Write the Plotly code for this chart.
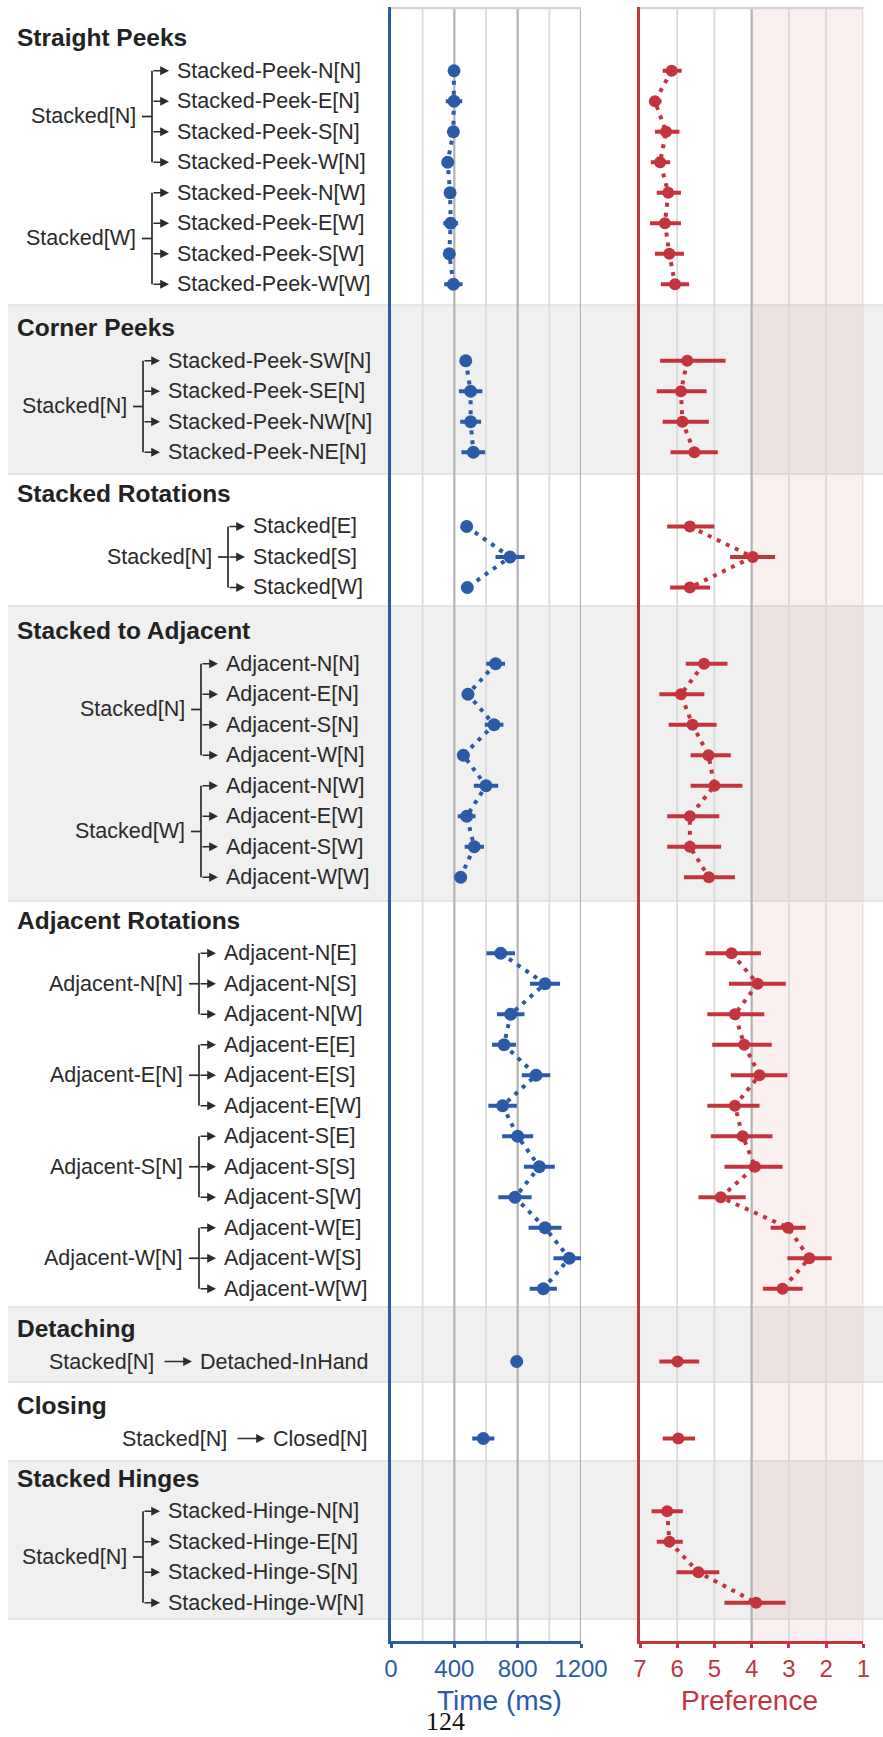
import plotly.graph_objects as go

# ---------------- data ----------------
section_titles = ["Straight Peeks", "Corner Peeks", "Stacked Rotations", "Stacked to Adjacent",
                  "Adjacent Rotations", "Detaching", "Closing", "Stacked Hinges"]

row_section = [0] * 8 + [1] * 4 + [2] * 3 + [3] * 8 + [4] * 12 + [5] + [6] + [7] * 4

row_source = (["Stacked[N]"] * 4 + ["Stacked[W]"] * 4
              + ["Stacked[N]"] * 4
              + ["Stacked[N]"] * 3
              + ["Stacked[N]"] * 4 + ["Stacked[W]"] * 4
              + ["Adjacent-N[N]"] * 3 + ["Adjacent-E[N]"] * 3 + ["Adjacent-S[N]"] * 3 + ["Adjacent-W[N]"] * 3
              + ["Stacked[N]"]
              + ["Stacked[N]"]
              + ["Stacked[N]"] * 4)

row_target = ["Stacked-Peek-N[N]", "Stacked-Peek-E[N]", "Stacked-Peek-S[N]", "Stacked-Peek-W[N]",
              "Stacked-Peek-N[W]", "Stacked-Peek-E[W]", "Stacked-Peek-S[W]", "Stacked-Peek-W[W]",
              "Stacked-Peek-SW[N]", "Stacked-Peek-SE[N]", "Stacked-Peek-NW[N]", "Stacked-Peek-NE[N]",
              "Stacked[E]", "Stacked[S]", "Stacked[W]",
              "Adjacent-N[N]", "Adjacent-E[N]", "Adjacent-S[N]", "Adjacent-W[N]",
              "Adjacent-N[W]", "Adjacent-E[W]", "Adjacent-S[W]", "Adjacent-W[W]",
              "Adjacent-N[E]", "Adjacent-N[S]", "Adjacent-N[W]",
              "Adjacent-E[E]", "Adjacent-E[S]", "Adjacent-E[W]",
              "Adjacent-S[E]", "Adjacent-S[S]", "Adjacent-S[W]",
              "Adjacent-W[E]", "Adjacent-W[S]", "Adjacent-W[W]",
              "Detached-InHand",
              "Closed[N]",
              "Stacked-Hinge-N[N]", "Stacked-Hinge-E[N]", "Stacked-Hinge-S[N]", "Stacked-Hinge-W[N]"]

time_ms = [398, 398, 394, 358, 373, 377, 368, 394,
           472, 503, 503, 520,
           478, 752, 482,
           661, 486, 651, 457, 600, 478, 526, 440,
           693, 973, 756, 714, 916, 705, 800, 937, 783, 973, 1126, 962,
           794,
           583,
           None, None, None, None]
time_err = [20, 52, 25, 25, 25, 47, 25, 58,
            25, 74, 66, 75,
            25, 92, 25,
            59, 25, 59, 25, 77, 56, 61, 25,
            90, 95, 87, 76, 90, 90, 98, 98, 105, 104, 100, 86,
            30,
            70,
            None, None, None, None]

pref_mean = [6.15, 6.60, 6.30, 6.46, 6.24, 6.33, 6.21, 6.06,
             5.73, 5.90, 5.86, 5.54,
             5.66, 3.97, 5.66,
             5.28, 5.90, 5.59, 5.16, 5.00, 5.66, 5.66, 5.15,
             4.54, 3.84, 4.45, 4.20, 3.79, 4.45, 4.24, 3.91, 4.83, 3.02, 2.45, 3.17,
             5.99,
             5.97,
             6.27, 6.21, 5.43, 3.88]
pref_hi = [6.39, 6.75, 6.60, 6.71, 6.55, 6.73, 6.60, 6.44,
           6.46, 6.55, 6.39, 6.18,
           6.27, 4.58, 6.19,
           5.77, 6.48, 6.23, 5.64, 5.64, 6.27, 6.27, 5.82,
           5.24, 4.61, 5.19, 5.06, 4.56, 5.19, 5.10, 4.73, 5.43, 3.49, 3.04, 3.70,
           6.48,
           6.39,
           6.69, 6.55, 6.02, 4.73]
pref_lo = [5.88, 6.42, 5.94, 6.19, 5.90, 5.90, 5.82, 5.68,
           4.70, 5.21, 5.15, 4.91,
           5.00, 3.37, 5.12,
           4.65, 5.27, 4.94, 4.56, 4.25, 4.87, 4.82, 4.45,
           3.75, 3.08, 3.66, 3.46, 3.04, 3.79, 3.44, 3.17, 4.16, 2.55, 1.85, 2.63,
           5.41,
           5.52,
           5.85, 5.85, 4.87, 3.09]

time_ticks = [0, 400, 800, 1200]
time_minor = [200, 600, 1000]
pref_ticks = [7, 6, 5, 4, 3, 2, 1]

# ---------------- layout constants ----------------
W, H = 883, 1737
PLOT_TOP, AXIS_Y = 7, 1641
band_edges = [16, 305, 474, 606, 901, 1307, 1382, 1461, 1619]
band_shaded = [False, True, False, True, False, True, False, True]
bracket_x = [152, 143, 228, 201, 199, 163, 236, 143]
PITCH, TITLE_GAP, SHIFT = 30.5, 32, 1

BLUE = "#2b5ba7"
RED = "#c3343e"
TXT = "#2b2b2b"
FONT = "Liberation Sans, Arial, sans-serif"


def px(x):
    return x / W


def py(y):
    return 1 - y / H


n_sec = len(section_titles)
sec_rows = [[i for i, r in enumerate(row_section) if r == s] for s in range(n_sec)]
row_y = [0.0] * len(row_section)
title_y = []
for s in range(n_sec):
    idx = sec_rows[s]
    n = len(idx)
    center = (band_edges[s] + band_edges[s + 1]) / 2 + SHIFT
    ty = center - (TITLE_GAP + (n - 1) * PITCH) / 2
    title_y.append(ty)
    for k, i in enumerate(idx):
        row_y[i] = ty + TITLE_GAP + k * PITCH

fig = go.Figure()

# ---------------- traces ----------------
for s in range(n_sec):
    idx = sec_rows[s]
    ys = [row_y[i] for i in idx]
    t = [time_ms[i] for i in idx]
    if any(v is not None for v in t):
        fig.add_trace(go.Scatter(
            x=t, y=ys, xaxis="x", yaxis="y", mode="lines+markers",
            line=dict(color=BLUE, width=4, dash="4px,6px"),
            marker=dict(color=BLUE, size=13),
            error_x=dict(type="data", array=[time_err[i] for i in idx], color=BLUE, thickness=4, width=0),
            showlegend=False, hoverinfo="skip", cliponaxis=False))
    fig.add_trace(go.Scatter(
        x=[pref_mean[i] for i in idx], y=ys, xaxis="x2", yaxis="y2", mode="lines+markers",
        line=dict(color=RED, width=4, dash="4px,6px"),
        marker=dict(color=RED, size=12),
        error_x=dict(type="data", symmetric=False,
                     array=[pref_hi[i] - pref_mean[i] for i in idx],
                     arrayminus=[pref_mean[i] - pref_lo[i] for i in idx],
                     color=RED, thickness=4, width=0),
        showlegend=False, hoverinfo="skip", cliponaxis=False))

# ---------------- shapes ----------------
shapes = []
for s in range(n_sec):
    if band_shaded[s]:
        shapes.append(dict(type="rect", xref="paper", yref="y", x0=px(8), x1=1,
                           y0=band_edges[s], y1=band_edges[s + 1],
                           fillcolor="#eff0ef", line=dict(width=0), layer="below"))
        for e in (band_edges[s], band_edges[s + 1]):
            shapes.append(dict(type="line", xref="paper", yref="y", x0=px(8), x1=1, y0=e, y1=e,
                               line=dict(color="#dedfde", width=1.5), layer="below"))

# pink "disliked" region
shapes.append(dict(type="rect", xref="x2", yref="y2", x0=4, x1=1, y0=AXIS_Y, y1=PLOT_TOP,
                   fillcolor="rgba(205,60,70,0.08)", line=dict(width=0), layer="between"))

# gridlines
for v in time_minor:
    shapes.append(dict(type="line", xref="x", yref="y", x0=v, x1=v, y0=AXIS_Y, y1=PLOT_TOP,
                       line=dict(color="#dcdcdc", width=1.8), layer="between"))
for v in time_ticks[1:]:
    shapes.append(dict(type="line", xref="x", yref="y", x0=v, x1=v, y0=AXIS_Y, y1=PLOT_TOP,
                       line=dict(color="#b3b3b3", width=2.2), layer="between"))
for v in pref_ticks[1:]:
    col = "#b3b3b3" if v == 4 else "#d9d9d9"
    wid = 2.2 if v == 4 else 1.8
    shapes.append(dict(type="line", xref="x2", yref="y2", x0=v, x1=v, y0=AXIS_Y, y1=PLOT_TOP,
                       line=dict(color=col, width=wid), layer="between"))
# top frame lines
shapes.append(dict(type="line", xref="x", yref="y", x0=0, x1=1200, y0=PLOT_TOP + 1, y1=PLOT_TOP + 1,
                   line=dict(color="#d3d3d3", width=2.5), layer="between"))
shapes.append(dict(type="line", xref="x2", yref="y2", x0=7, x1=1, y0=PLOT_TOP + 1, y1=PLOT_TOP + 1,
                   line=dict(color="#d3d3d3", width=2.5), layer="between"))

# ---------------- left labels ----------------
ann = []
lab_font = dict(family=FONT, size=21.5, color=TXT)
for s in range(n_sec):
    idx = sec_rows[s]
    bx = bracket_x[s]
    ann.append(dict(x=px(15), y=title_y[s] - 1, xref="paper", yref="y", xanchor="left", yanchor="middle",
                    text=section_titles[s], showarrow=False,
                    font=dict(family=FONT, size=24.5, color="#222222", weight="bold")))
    if len(idx) == 1:
        i = idx[0]
        ann.append(dict(x=px(bx - 7), y=row_y[i], xref="paper", yref="y", xanchor="right", yanchor="middle",
                        text=row_source[i], showarrow=False, font=lab_font))
        ann.append(dict(x=px(bx + 29), y=row_y[i], xref="paper", yref="y", ax=-29, ay=0,
                        axref="pixel", ayref="pixel", text="", showarrow=True,
                        arrowhead=2, arrowsize=1.1, arrowwidth=1.6, arrowcolor=TXT))
        ann.append(dict(x=px(bx + 35), y=row_y[i], xref="paper", yref="y", xanchor="left", yanchor="middle",
                        text=row_target[i], showarrow=False, font=lab_font))
        continue
    # groups of consecutive rows with the same source
    groups = []
    for i in idx:
        if groups and row_source[groups[-1][-1]] == row_source[i]:
            groups[-1].append(i)
        else:
            groups.append([i])
    for g in groups:
        y0, y1 = row_y[g[0]], row_y[g[-1]]
        ym = (y0 + y1) / 2
        shapes.append(dict(type="line", xref="paper", yref="y", x0=px(bx), x1=px(bx), y0=y0, y1=y1,
                           line=dict(color=TXT, width=1.7), layer="above"))
        shapes.append(dict(type="line", xref="paper", yref="y", x0=px(bx - 10), x1=px(bx), y0=ym, y1=ym,
                           line=dict(color=TXT, width=1.7), layer="above"))
        ann.append(dict(x=px(bx - 14), y=ym, xref="paper", yref="y", xanchor="right", yanchor="middle",
                        text=row_source[g[0]], showarrow=False, font=lab_font))
        for i in g:
            ann.append(dict(x=px(bx + 17), y=row_y[i], xref="paper", yref="y", ax=-17, ay=0,
                            axref="pixel", ayref="pixel", text="", showarrow=True,
                            arrowhead=2, arrowsize=1.1, arrowwidth=1.6, arrowcolor=TXT))
            ann.append(dict(x=px(bx + 23), y=row_y[i], xref="paper", yref="y", xanchor="left",
                            yanchor="middle", text=row_target[i], showarrow=False, font=lab_font))

# axis titles and page number
ann.append(dict(x=px(499), y=py(1700), xref="paper", yref="paper", xanchor="center", yanchor="middle",
                text="Time (ms)", showarrow=False, font=dict(family=FONT, size=28, color=BLUE)))
ann.append(dict(x=px(749), y=py(1700), xref="paper", yref="paper", xanchor="center", yanchor="middle",
                text="Preference", showarrow=False, font=dict(family=FONT, size=28, color=RED)))
ann.append(dict(x=px(445), y=py(1721), xref="paper", yref="paper", xanchor="center", yanchor="middle",
                text="124", showarrow=False,
                font=dict(family="Liberation Serif, DejaVu Serif, serif", size=26, color="#111111")))

ydom = [py(AXIS_Y), py(PLOT_TOP)]
fig.update_layout(
    width=W, height=H, autosize=False,
    margin=dict(l=0, r=0, t=0, b=0, pad=0, autoexpand=False),
    paper_bgcolor="white", plot_bgcolor="rgba(0,0,0,0)",
    showlegend=False,
    shapes=shapes, annotations=ann,
    xaxis=dict(domain=[px(391), px(581)], range=[0, 1200], tickvals=time_ticks, ticks="outside",
               ticklen=4, tickwidth=2.5, tickcolor=BLUE, showline=True, linecolor=BLUE, linewidth=2.5,
               showgrid=False, zeroline=False, anchor="y", automargin=False,
               tickfont=dict(family=FONT, size=24, color=BLUE)),
    yaxis=dict(domain=ydom, range=[AXIS_Y, PLOT_TOP], showline=True, linecolor=BLUE, linewidth=2.5,
               showgrid=False, zeroline=False, showticklabels=False, ticks="", anchor="x",
               automargin=False),
    xaxis2=dict(domain=[px(640), px(863.3)], range=[7, 1], tickvals=pref_ticks, ticks="outside",
                ticklen=4, tickwidth=2.5, tickcolor=RED, showline=True, linecolor=RED, linewidth=2.5,
                showgrid=False, zeroline=False, anchor="y2", automargin=False,
                tickfont=dict(family=FONT, size=24, color=RED)),
    yaxis2=dict(domain=ydom, range=[AXIS_Y, PLOT_TOP], matches="y", showline=True, linecolor=RED,
                linewidth=2.5, showgrid=False, zeroline=False, showticklabels=False, ticks="", anchor="x2",
                automargin=False),
)

post = ("document.documentElement.style.overflow='hidden';"
        "document.body.style.margin='0';document.body.style.overflow='hidden';"
        "var gd=document.getElementById('{plot_id}');"
        "Plotly.relayout(gd,{width:883,height:1737});")
fig.write_html("out.html", config={"responsive": False, "displayModeBar": False}, post_script=post)
